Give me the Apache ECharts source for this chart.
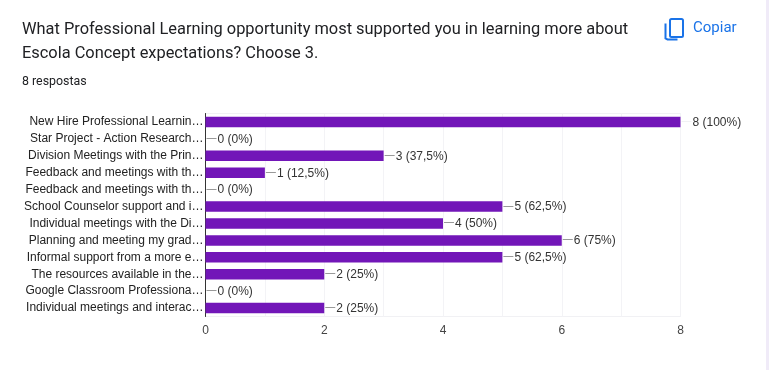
<!DOCTYPE html>
<html>
<head>
<meta charset="utf-8">
<style>
  html, body { margin: 0; padding: 0; background: #fff; }
  #main { width: 769px; height: 370px; }
</style>
<script src="https://cdn.jsdelivr.net/npm/echarts@6/dist/echarts.min.js"></script>
</head>
<body>
<div id="main"></div>
<script>
const categories = [
  'New Hire Professional Learnin…',
  'Star Project - Action Research…',
  'Division Meetings with the Prin…',
  'Feedback and meetings with th…',
  'Feedback and meetings with th…',
  'School Counselor support and i…',
  'Individual meetings with the Di…',
  'Planning and meeting my grad…',
  'Informal support from a more e…',
  'The resources available in the…',
  'Google Classroom Professiona…',
  'Individual meetings and interac…'
];
const counts = [8, 0, 3, 1, 0, 5, 4, 6, 5, 2, 0, 2];
const valueLabels = ['8 (100%)', '0 (0%)', '3 (37,5%)', '1 (12,5%)', '0 (0%)', '5 (62,5%)', '4 (50%)', '6 (75%)', '5 (62,5%)', '2 (25%)', '0 (0%)', '2 (25%)'];
const titleLines = ['What Professional Learning opportunity most supported you in learning more about', 'Escola Concept expectations? Choose 3.'];
const subtitle = '8 respostas';
const copyLabel = 'Copiar';

const myChart = echarts.init(document.getElementById('main'), null, { renderer: 'canvas' });

myChart.setOption({
  animation: false,
  backgroundColor: '#fff',
  grid: { show: true, borderColor: '#f1f1f4', borderWidth: 1, left: 205.5, top: 113.5, width: 475, height: 203, containLabel: false },
  xAxis: {
    type: 'value',
    min: 0,
    max: 8,
    interval: 1,
    axisLine: { show: false },
    axisTick: { show: false },
    splitLine: { show: true, lineStyle: { color: '#f3f3f6', width: 1 } },
    axisLabel: {
      margin: 8,
      fontFamily: 'Liberation Sans',
      fontSize: 12,
      color: '#444',
      // only even ticks get a label, the odd ones are just gridlines
      formatter: v => (v % 2 === 0 ? String(v) : '')
    }
  },
  yAxis: {
    type: 'category',
    inverse: true,
    data: categories,
    axisLine: { show: true, lineStyle: { color: '#333', width: 1 } },
    axisTick: { show: false },
    axisLabel: {
      margin: 2,
      interval: 0,
      fontFamily: 'Liberation Sans',
      fontSize: 12,
      color: '#222',
      align: 'right',
      padding: [2, 0, 0, 0]
    }
  },
  series: [
    {
      type: 'bar',
      data: counts,
      barWidth: 10.5,
      itemStyle: { color: '#7216b8' },
      z: 3
    },
    {
      // leader line + value text after each bar
      type: 'custom',
      data: counts.map((v, i) => [v, i]),
      encode: { x: 0, y: 1 },
      z: 4,
      renderItem: (params, api) => {
        const p = api.coord([api.value(0), api.value(1)]);
        return {
          type: 'group',
          children: [
            {
              type: 'line',
              shape: { x1: p[0] + 1, y1: Math.round(p[1]) - 0.5, x2: p[0] + 11, y2: Math.round(p[1]) - 0.5 },
              style: { stroke: api.value(0) === 8 ? '#f1f1f4' : '#999', lineWidth: 1 }
            },
            {
              type: 'text',
              x: p[0] + 12,
              y: p[1] + 0.5,
              style: {
                text: valueLabels[params.dataIndex],
                fontFamily: 'Liberation Sans',
                fontSize: 12,
                fill: '#333',
                verticalAlign: 'middle',
                align: 'left'
              }
            }
          ]
        };
      }
    }
  ],
  graphic: [
    { type: 'rect', left: 766, top: 0, shape: { width: 3, height: 370 }, style: { fill: '#f0ebf8' } },
    { type: 'text', left: 22, top: 22, style: { text: titleLines[0], fontFamily: 'Roboto', fontSize: 16.4, fill: '#202124' } },
    { type: 'text', left: 22, top: 46, style: { text: titleLines[1], fontFamily: 'Roboto', fontSize: 16.4, fill: '#202124' } },
    { type: 'text', left: 22, top: 76, style: { text: subtitle, fontFamily: 'Roboto', fontSize: 12.4, fill: '#202124' } },
    { type: 'text', left: 693, top: 21, style: { text: copyLabel, fontFamily: 'Roboto', fontSize: 15, fill: '#1a73e8' } },
    // copy icon
    { type: 'rect', left: 667.5, top: 16.5, shape: { width: 13, height: 18, r: 1.5 }, style: { fill: 'none', stroke: '#1a73e8', lineWidth: 2 } },
    { type: 'polyline', left: 663, top: 21, shape: { points: [[1, 0], [1, 15], [3, 16], [13, 16]] }, style: { fill: 'none', stroke: '#1a73e8', lineWidth: 2 } }
  ]
});
</script>
</body>
</html>
